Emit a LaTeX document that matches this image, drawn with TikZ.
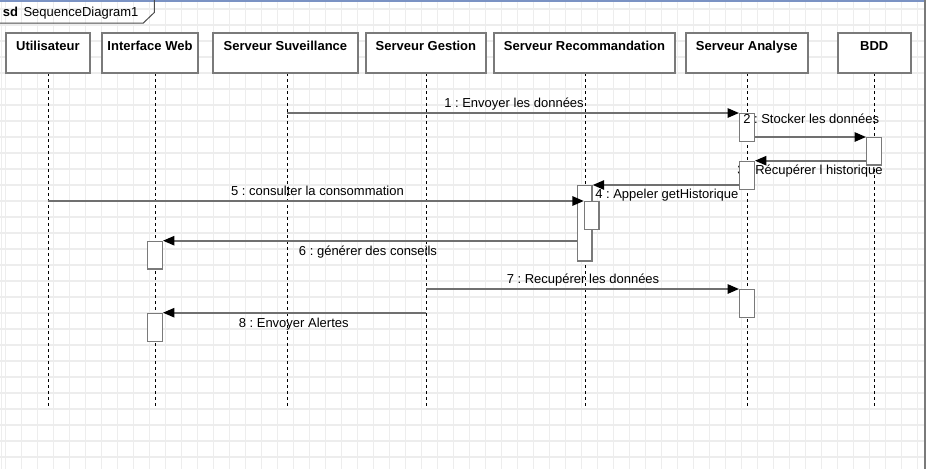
\documentclass[tikz,border=0pt]{standalone}
\usepackage{fontspec}
\setmainfont{Liberation Sans}
\usepackage{tikz}
\usetikzlibrary{arrows.meta,calc}

\definecolor{gridgray}{HTML}{EDEDED}
\definecolor{boxgray}{HTML}{7A7A7A}
\definecolor{msggray}{HTML}{707070}
\definecolor{topblue}{HTML}{7B93C4}

\tikzset{
  head/.style={draw=boxgray, line width=1.5pt, fill=white, inner xsep=0pt, inner ysep=0pt,
    minimum height=30pt, text height=13.6pt, text depth=16.4pt, font=\bfseries},
  act/.style={draw=boxgray, line width=1.1pt, fill=white, inner sep=0pt, minimum width=10.9pt},
  life/.style={black, line width=0.75pt, dash pattern=on 2.25pt off 2.25pt},
  msg/.style={msggray, line width=1.2pt, -{Triangle[length=8.5pt,width=7pt,color=black]}},
  lbl/.style={inner sep=0pt}
}

\begin{document}
\frenchspacing
\fontsize{9.75}{11.7}\selectfont
\begin{tikzpicture}[x=0.75pt, y=-0.75pt]
\useasboundingbox (0,0) rectangle (926,469);
\fill[white] (0,0) rectangle (926,469);

% grid
\foreach \gx in {0,...,57}
  \draw[gridgray, line width=1.1pt] (5.7+16*\gx,0) -- (5.7+16*\gx,469);
\foreach \gy in {0,...,28}
  \draw[gridgray, line width=1.1pt] (0,9+16*\gy) -- (926,9+16*\gy);
\draw[gridgray, line width=1.1pt] (1.5,0) -- (1.5,469);

% frame
\draw[topblue, line width=1.5pt] (0,0.75) -- (926,0.75);
\draw[boxgray, line width=1.1pt] (925,0) -- (925,469);
\draw[black!70, line width=0.75pt] (0,23) -- (143.3,23) -- (154.3,12.5) -- (154.3,0);
\node[lbl, anchor=base west] (sdkw) at (2.7,16.5) {\bfseries sd};
\node[lbl, anchor=base west] (sdname) at (23.3,16.5) {SequenceDiagram1};

% lifelines
\foreach \n/\lx in {u/48, iw/155, ss/287, sg/426, sr/585, sa/747, bdd/874} {
  \coordinate (l\n) at (\lx,73);
  \coordinate (e\n) at (\lx,407);
  \draw[life] (l\n) -- (e\n);
}

% heads
\node[head, minimum width=63.2pt] (u) at (47.9,52.5) {Utilisateur};
\node[head, minimum width=72.5pt] (iw) at (150,52.5) {Interface Web};
\node[head, minimum width=108.2pt] (ss) at (285.4,52.5) {Serveur Suveillance};
\node[head, minimum width=90.5pt] (sg) at (425.9,52.5) {Serveur Gestion};
\node[head, minimum width=135.8pt] (sr) at (584.5,52.5) {Serveur Recommandation};
\node[head, minimum width=91.6pt] (sa) at (746.8,52.5) {Serveur Analyse};
\node[head, minimum width=54.5pt] (bdd) at (874.3,52.5) {BDD};

% activations
\node[act, minimum height=21pt, anchor=north] (a1) at (747,113) {};
\node[act, minimum height=20.3pt, anchor=north] (b1) at (874,137) {};
\node[lbl, anchor=base west] (l3) at (737,174) {3 : Récupérer l historique};
\node[act, minimum height=21.2pt, anchor=north] (a2) at (747,160.7) {};
\node[act, minimum height=56.3pt, anchor=north] (r1) at (584.8,185) {};
\node[act, minimum height=21pt, anchor=north] (r2) at (591.8,201) {};
\node[act, minimum height=20.7pt, anchor=north] (w1) at (155,240.7) {};
\node[act, minimum height=21pt, anchor=north] (a3) at (747,289) {};
\node[act, minimum height=21pt, anchor=north] (w2) at (155,312.7) {};

% messages
\draw[msg] (lss |- a1.north) -- (a1.north west);
\draw[msg] (a1.east |- b1.north) -- (b1.north west);
\draw[msg] (b1.west |- a2.north) -- (a2.north east);
\draw[msg] (a2.west |- r1.north) -- (r1.north east);
\draw[msg] (lu |- r2.north) -- (r2.north west);
\draw[msg] (r1.west |- w1.north) -- (w1.north east);
\draw[msg] (lsg |- a3.north) -- (a3.north west);
\draw[msg] (lsg |- w2.north) -- (w2.north east);

% labels
\node[lbl, anchor=base] (l1) at (514,107) {1 : Envoyer les données};
\node[lbl, anchor=base west] (l2) at (743,123.3) {2 : Stocker les données};
\node[lbl, anchor=base west] (l4) at (595,198.3) {4 : Appeler getHistorique};
\node[lbl, anchor=base] (l5) at (317.5,195) {5 : consulter la consommation};
\node[lbl, anchor=base] (l6) at (368,255) {6 : générer des conseils};
\node[lbl, anchor=base] (l7) at (583,283.3) {7 : Recupérer les données};
\node[lbl, anchor=base] (l8) at (293.7,327.3) {8 : Envoyer Alertes};
\end{tikzpicture}
\end{document}
